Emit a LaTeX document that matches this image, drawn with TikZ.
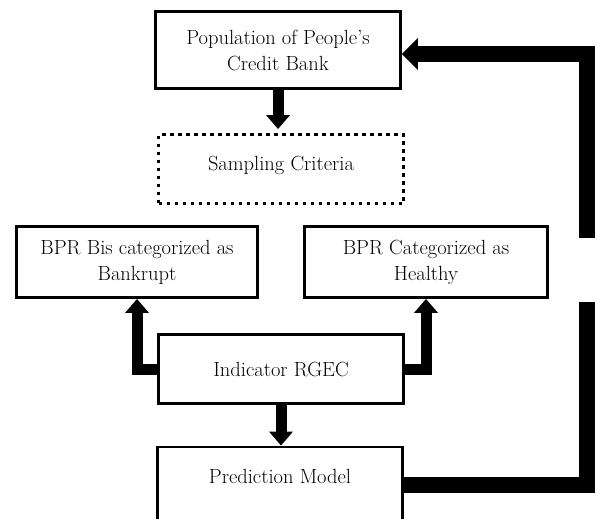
\documentclass[tikz,border=0pt]{standalone}
\usepackage{tikz}
\usetikzlibrary{arrows.meta}

\begin{document}
\begin{tikzpicture}[x=1pt, y=-1pt,
		box/.style={draw, line width=2.8pt, minimum width=245pt, minimum height=69pt, inner sep=0pt, align=center, font=\fontsize{20.5}{26}\selectfont},
		dotbox/.style={box, dash pattern=on 3.5pt off 4.5pt},
		fat/.style={line width=11pt, -{Triangle[width=23pt, length=14pt]}},
		fatter/.style={line width=16pt, -{Triangle[width=31pt, length=16pt]}}]
				\useasboundingbox (0,0) rectangle (597,519);
				
				\node[box, minimum height=77pt] (pop) at (278,50) {Population of People's\\Credit Bank};
				\node[dotbox, text depth=12pt] (samp) at (281,169) {Sampling Criteria};
				\node[box, minimum width=241pt, minimum height=71pt] (bank) at (137,262) {BPR Bis categorized as\\Bankrupt};
				\node[box, minimum width=243pt, minimum height=71pt] (heal) at (426,262) {BPR Categorized as\\Healthy};
				\node[box] (ind) at (281,369) {Indicator RGEC};
				\node[box, minimum height=76pt, text depth=18pt] (pred) at (280,485) {Prediction Model};
				
				\draw[fat, shorten >=4pt] (pop.south) -- (pop.south |- samp.north);
				\draw[fat] (ind.west) -| (bank.south);
				\draw[fat] (ind.east) -| (heal.south);
				\draw[fat] (ind.south) -- (ind.south |- pred.north);
				
				% feedback, broken in two
				\coordinate (fbtop) at (587,238);
				\coordinate (fbbot) at (587,302);
				\draw[fatter, -] (pred.east) -| (fbbot);
				\draw[fatter] (fbtop) |- ([yshift=-4pt]pop.east);
%				\draw[fatter] (pred.east) -| (fbtop) |- (pop.east);
			\end{tikzpicture}
\end{document}
